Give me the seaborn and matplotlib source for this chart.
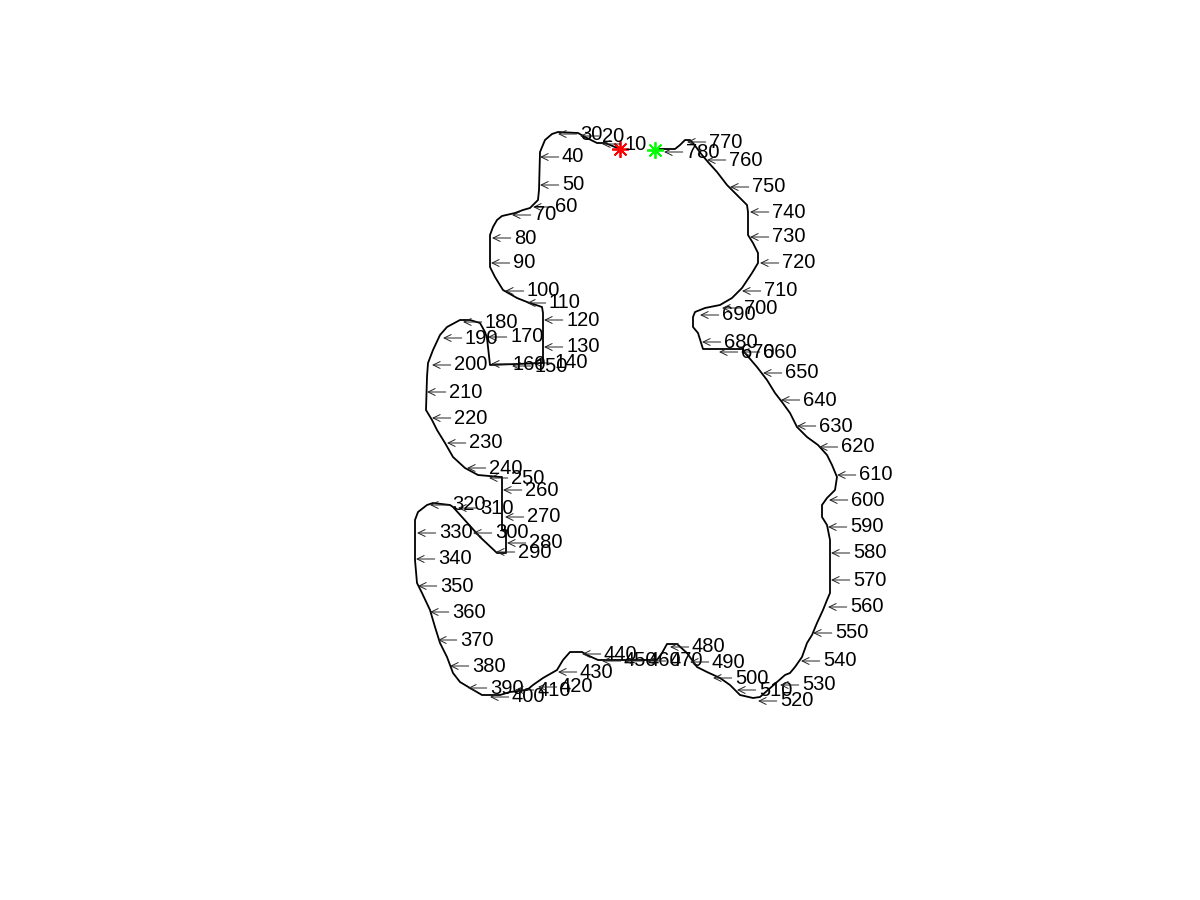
import matplotlib
matplotlib.use("Agg")
import matplotlib.pyplot as plt
import seaborn as sns

# boundary trace (pixel coordinates, y pointing down)
trace_x = [620, 605, 597, 587, 578, 558, 552, 545, 540, 539, 538, 533, 530, 523, 515, 502, 497, 493,
           490, 490, 495, 503, 517, 527, 542, 543, 543, 543, 490, 487, 485, 480, 470, 460, 447, 440,
           433, 428, 427, 426, 432, 437, 445, 453, 465, 478, 500, 502, 502, 506, 506, 497, 480, 453,
           450, 433, 427, 418, 415, 415, 417, 422, 430, 435, 440, 447, 453, 460, 470, 482, 500, 510,
           527, 533, 543, 557, 563, 570, 582, 587, 598, 657, 662, 667, 677, 687, 697, 707, 720, 730,
           740, 753, 760, 768, 777, 785, 790, 795, 802, 807, 812, 817, 823, 827, 830, 830, 828, 827,
           822, 822, 827, 835, 837, 832, 827, 818, 807, 797, 790, 782, 775, 767, 757, 745, 743, 703,
           698, 693, 693, 695, 705, 720, 732, 742, 752, 758, 758, 753, 748, 748, 747, 737, 727, 717,
           708, 702, 693, 690, 685, 680, 675, 660, 655]
trace_y = [149, 143, 143, 138, 133, 132, 134, 140, 152, 190, 200, 205, 208, 210, 213, 216, 220, 227,
           235, 267, 277, 290, 298, 302, 307, 313, 358, 363, 365, 338, 332, 323, 320, 320, 327, 335,
           350, 363, 377, 410, 420, 430, 443, 457, 468, 475, 477, 477, 530, 530, 553, 553, 537, 507,
           505, 503, 505, 512, 520, 560, 583, 593, 610, 627, 643, 657, 673, 682, 688, 695, 695, 692,
           690, 685, 678, 670, 660, 652, 652, 655, 660, 660, 653, 644, 644, 653, 667, 672, 678, 685,
           695, 698, 697, 690, 682, 675, 673, 667, 657, 643, 635, 623, 610, 600, 593, 540, 530, 525,
           517, 505, 498, 490, 477, 465, 455, 445, 437, 427, 413, 402, 393, 380, 367, 353, 349, 349,
           333, 327, 317, 312, 308, 305, 298, 288, 273, 263, 253, 243, 235, 212, 205, 195, 185, 172,
           162, 155, 143, 140, 140, 145, 149, 149, 150]

# every 10th point of the trace carries its index
label_idx = list(range(10, 790, 10))
label_x = [602, 580, 558, 540, 540, 533, 512, 492, 491, 505, 527, 544, 544, 533, 512, 491, 488, 463,
           443, 432, 427, 432, 447, 467, 489, 503, 505, 507, 496, 473, 458, 430, 417, 416, 418, 430,
           438, 450, 468, 490, 515, 538, 558, 582, 602, 625, 647, 670, 690, 713, 737, 758, 780, 801,
           813, 828, 831, 831, 828, 829, 837, 819, 797, 781, 763, 741, 719, 702, 700, 722, 742, 760,
           750, 750, 730, 707, 687, 664]
label_y = [144, 136, 134, 157, 185, 207, 215, 238, 263, 291, 303, 320, 347, 363, 366, 364, 337, 322,
           338, 365, 392, 418, 443, 468, 478, 490, 517, 543, 552, 533, 508, 505, 533, 559, 586, 612,
           640, 666, 688, 697, 690, 687, 672, 654, 661, 661, 661, 647, 662, 678, 690, 701, 685, 661,
           633, 607, 580, 553, 527, 500, 475, 447, 426, 400, 373, 352, 352, 342, 315, 308, 291, 263,
           237, 212, 187, 160, 142, 152]

start_pt = (620, 149)
end_pt = (655, 150)

sns.set_style("white")
plt.rcParams['font.family'] = ['Liberation Sans', 'DejaVu Sans']

fig = plt.figure(figsize=(12, 9), dpi=100)
ax = fig.add_axes([0, 0, 1, 1])

sns.lineplot(x=trace_x, y=trace_y, sort=False, estimator=None, color='black', lw=1.3, ax=ax)

# thin left arrow from each label to its point
for n, x, y in zip(label_idx, label_x, label_y):
    ax.annotate(str(n), xy=(x, y), xytext=(22, 0), textcoords='offset pixels',
                ha='left', va='center', fontsize=14.5, color='black',
                arrowprops=dict(arrowstyle='->,head_length=0.35,head_width=0.17',
                                color='#222222', lw=0.7, shrinkA=0, shrinkB=0,
                                relpos=(0, 0.5)))

ax.plot(*start_pt, marker=(8, 2, 0), color='red', ms=12, mew=1.3)
ax.plot(*end_pt, marker=(8, 2, 0), color='#00ff00', ms=12, mew=1.3)

ax.set_xlim(0, 1200)
ax.set_ylim(900, 0)
ax.set_aspect('equal')
ax.axis('off')

fig.savefig('out.png', dpi=100)
